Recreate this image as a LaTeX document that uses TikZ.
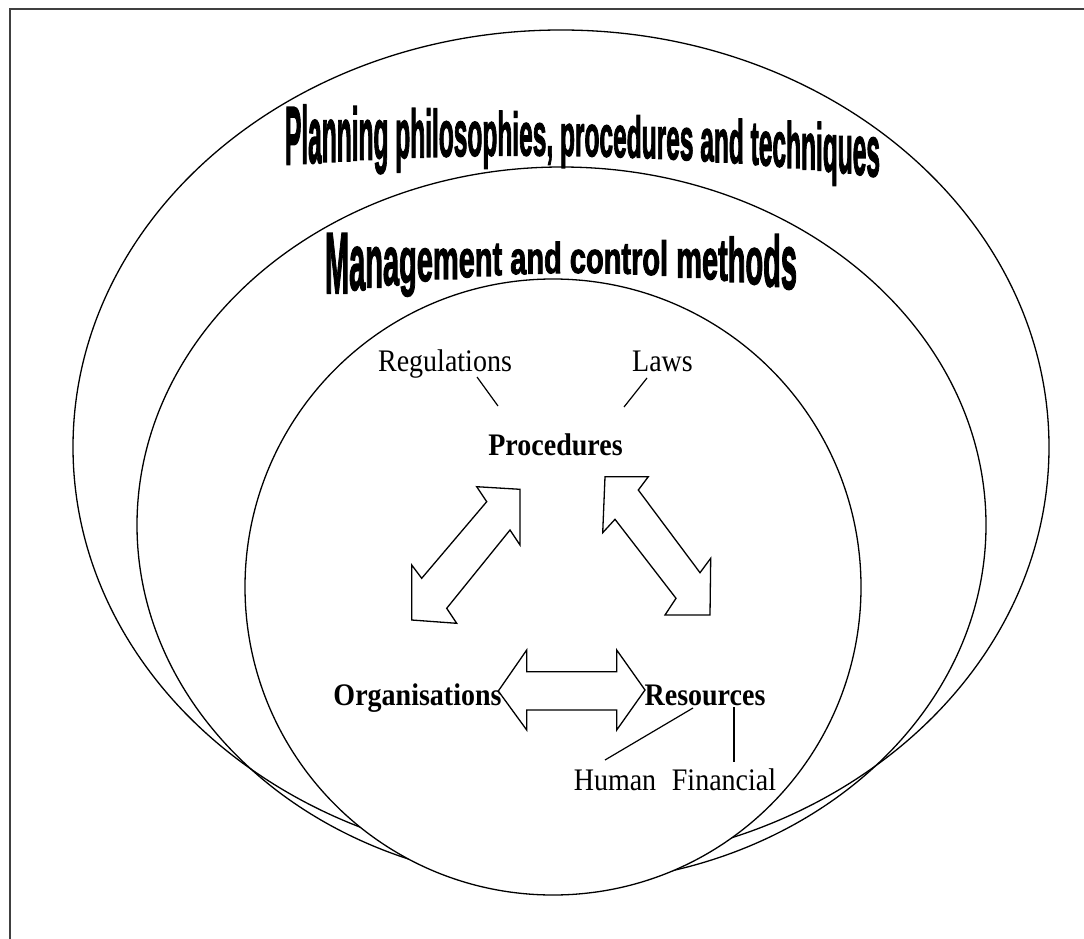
\documentclass[tikz,border=0pt]{standalone}
\usepackage{fontspec}
\setmainfont{Liberation Serif}
\newfontfamily\wafont{Liberation Sans}[BoldFeatures={FakeBold=2.5}]
\usepackage{graphicx}
\usetikzlibrary{calc}

% ---- warped (arched) headings, set glyph by glyph ----
\newdimen\wglob
\newsavebox\wbox
\newcount\glyphno
\newcommand\cma{,}
\def\spmark{*}
\def\wafs{20}
\newcommand\wfnt{\wafont\bfseries\fontsize{\wafs}{\wafs}\selectfont}
\newcommand\wmeasure[1]{\pgfinterruptpicture\sbox\wbox{\wfnt #1}\global\wglob=\wd\wbox\endpgfinterruptpicture}
% #1 glyph list (* = space), #2 left x, #3 right x,
% #4/#5/#6 baseline at left/centre/right, #7/#8/#9 ascender height at left/centre/right
\newcommand\warpline[9]{%
  \gdef\wsum{0}%
  \foreach \ch in {#1}{%
    \ifx\ch\spmark\wmeasure{\ }\else\wmeasure{\ch}\fi
    \pgfmathsetmacro\wtmp{\wsum+\the\wglob}\xdef\wsum{\wtmp}%
  }%
  \pgfmathsetmacro\wxs{(#3-#2)/\wsum}\xdef\wxs{\wxs}%
  \xdef\wx{#2}%
  \foreach \ch in {#1}{%
    \ifx\ch\spmark\wmeasure{\ }\else\wmeasure{\ch}\fi
    \pgfmathsetmacro\wmid{\wx+0.5*\wxs*\the\wglob}%
    \pgfmathsetmacro\wu{(\wmid-(#2+#3)/2)/((#3-#2)/2)}%
    \pgfmathsetmacro\wb{#5+(#6-#4)/2*\wu+((#4+#6)/2-#5)*\wu*\wu}%
    \pgfmathsetmacro\wh{#8+(#9-#7)/2*\wu+((#7+#9)/2-#8)*\wu*\wu}%
    \pgfmathsetmacro\wys{\wh/(0.716*\wafs)}%
    \ifx\ch\spmark\else
      \global\advance\glyphno by 1
      \node[glyph] (glyph\the\glyphno) at (\wx,\wb) {\scalebox{\wxs}[\wys]{\wfnt\ch}};%
    \fi
    \pgfmathsetmacro\wtmp{\wx+\wxs*\the\wglob}\xdef\wx{\wtmp}%
  }%
}
\newcommand\tall[1]{\scalebox{1}[1.12]{#1}}

\begin{document}
\begin{tikzpicture}[x=1pt,y=-1pt,
  frame/.style={line width=1.8pt, draw=black!75},
  ring/.style={line width=1.3pt, draw=black},
  core/.style={ring, fill=white},
  glyph/.style={inner sep=0pt, outer sep=0pt, anchor=base west},
  lbl/.style={inner sep=0pt, anchor=base, font=\fontsize{28}{30}\selectfont},
  lblb/.style={lbl, font=\fontsize{28}{30}\selectfont\bfseries},
  link/.style={line width=1.2pt},
  blockarrow/.style={line width=1.3pt, draw=black, fill=white, line join=miter}]
\useasboundingbox (0,0) rectangle (1084,939);

% page frame
\draw[frame] (1084,9) -- (10,9) -- (10,939);

% nested fields; the core circle hides the lower ends of the two outer rings
\draw[ring] (561,447) ellipse [x radius=488pt, y radius=417pt];
\draw[ring] (561.5,525) ellipse [x radius=424.5pt, y radius=358pt];
\draw[core] (553,587) circle [radius=308pt];

% headings
\warpline{P,l,a,n,n,i,n,g,*,p,h,i,l,o,s,o,p,h,i,e,s,\cma,*,p,r,o,c,e,d,u,r,e,s,*,a,n,d,*,t,e,c,h,n,i,q,u,e,s}
  {285}{880}{165}{156}{177}{60}{42}{52}
\warpline{M,a,n,a,g,e,m,e,n,t,*,a,n,d,*,c,o,n,t,r,o,l,*,m,e,t,h,o,d,s}
  {325}{797}{295}{273}{290}{65}{31}{57}

% labels
\node[lbl]  (reg)  at (445,371)   {\tall{Regulations}};
\node[lbl]  (laws) at (662.5,371) {\tall{Laws}};
\node[lblb] (proc) at (555.5,455) {\tall{Procedures}};
\node[lblb] (org)  at (417.5,705) {\tall{Organisations}};
\node[lblb] (res)  at (705,705)   {\tall{Resources}};
\node[lbl]  (hum)  at (615,790)   {\tall{Human}};
\node[lbl]  (fin)  at (724,790)   {\tall{Financial}};

% links
\draw[link] ([shift={(32,6)}]reg.base) -- ([shift={(-57.5,-49)}]proc.base);
\draw[link] ([shift={(-15.5,7)}]laws.base) -- ([shift={(68.5,-48)}]proc.base);
\draw[link] ([shift={(-12,3)}]res.base) -- ([shift={(-10,-30)}]hum.base);
\draw[link] ([shift={(29,2)}]res.base) -- ([shift={(10,-28)}]fin.base);

% two-way block arrows
\draw[blockarrow] (520,489.3) -- (520,545) -- (510,530) -- (446.7,608.3) -- (456.7,623.3)
  -- (411.7,620) -- (411.7,565) -- (421.7,578.3) -- (486.7,501.7) -- (476.7,486.7) -- cycle;
\draw[blockarrow] (605,476.7) -- (648.3,476.7) -- (638.3,490) -- (700,572.7) -- (710.7,558.3)
  -- (710,615) -- (665,615) -- (676,598.3) -- (615,519.3) -- (602.7,532.7) -- cycle;
\draw[blockarrow] (498.3,691) -- (526.7,650) -- (526.7,671.7) -- (616.7,671.7) -- (616.7,650)
  -- (645,690) -- (616.7,730) -- (616.7,710) -- (526.7,710) -- (526.7,730) -- cycle;
\end{tikzpicture}
\end{document}
